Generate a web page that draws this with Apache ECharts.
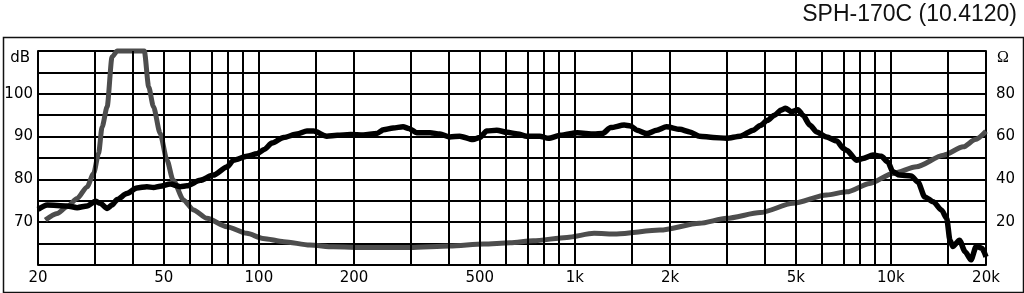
<!DOCTYPE html>
<html>
<head>
<meta charset="utf-8">
<script src="https://cdn.jsdelivr.net/npm/echarts@6/dist/echarts.min.js"></script>
<style>
html,body{margin:0;padding:0;background:#fff;}
#c{width:1024px;height:293px;}
</style>
</head>
<body>
<div id="c"></div>
<script>
// ---- data ----
var title = 'SPH-170C (10.4120)';
var xLabelFreqs = [20, 50, 100, 200, 500, 1000, 2000, 5000, 10000, 20000];
var xLabelTexts = ['20', '50', '100', '200', '500', '1k', '2k', '5k', '10k', '20k'];
var xGridFreqs = [30, 40, 50, 60, 70, 80, 90, 100, 150, 200, 300, 400, 500, 600, 700, 800, 900,
  1000, 1500, 2000, 3000, 4000, 5000, 6000, 7000, 8000, 9000, 10000, 15000];
var dbTicks = [70, 80, 90, 100];
var ohmTicks = [20, 40, 60, 80];

// SPL curve (dB)
var splFreq = [20, 21.4, 24.7, 26.6, 28.6, 30.4, 31.5, 33.1, 34.3, 35.6, 38.2, 41.1, 44.2, 46.4, 48.7,
  52.4, 56.4, 59.2, 65.2, 71.8, 79.2, 83.2, 91.6, 98.6, 104, 110, 119.8, 132, 142, 149, 164, 177, 195,
  214, 236, 248, 266, 286, 298, 316, 348, 374, 402, 432, 476, 500, 526, 566, 610, 660, 704, 774,
  824, 900, 1018, 1150, 1220, 1300, 1432, 1500, 1572, 1690, 1816, 1950, 2148, 2310, 2480, 2740,
  3020, 3334, 3672, 3860, 4070, 4280, 4500, 4640, 4850, 5080, 5270, 5540, 5820, 6260, 6740, 7080,
  7250, 7780, 8160, 8780, 9330, 9780, 10140, 10650, 11600, 12180, 12800, 13600, 14480, 15020,
  15380, 15700, 16480, 17180, 17920, 18640, 19440, 20000];
var splDb = [73.0, 74.0, 73.8, 73.4, 73.8, 74.9, 74.4, 73.2, 74.0, 75.3, 76.7, 78.0, 78.3, 78.1, 78.4,
  78.9, 78.3, 78.5, 79.8, 81.0, 82.9, 84.5, 85.4, 86.0, 87.0, 88.5, 89.8, 90.6, 91.3, 91.3, 90.1, 90.3, 90.5,
  90.4, 90.7, 91.6, 92.0, 92.3, 91.9, 90.9, 90.9, 90.6, 89.9, 90.1, 89.3, 89.8, 91.3, 91.5, 91.0, 90.6, 90.1, 90.1,
  89.6, 90.3, 90.9, 90.6, 90.7, 92.1, 92.7, 92.5, 91.5, 90.7, 91.5, 92.3, 91.7, 91.1, 90.1, 89.8,
  89.6, 90.1, 91.5, 92.6, 93.8, 95.0, 96.2, 96.6, 95.8, 96.3, 95.0, 92.7, 91.1, 89.9, 89.0, 87.2,
  86.8, 84.5, 84.9, 85.7, 85.4, 84.1, 81.8, 81.0, 80.8, 79.4, 75.9, 74.8, 72.8, 70.9,
  65.8, 64.3, 65.8, 63.1, 61.2, 64.4, 63.9, 61.9];

// Impedance curve (Ohm)
var impFreq = [21.1, 23.0, 24.7, 26.6, 28.6, 30, 31.1, 31.9, 33.1, 34.3, 35.6, 43.4, 44.8, 46.4, 48.7,
  51.2, 53.5, 57.8, 62.1, 68.5, 79.2, 91.6, 103, 120, 145, 172, 220, 301, 402, 514, 624, 738, 944,
  1150, 1356, 1860, 2480, 3020, 3860, 4900, 6260, 7250, 8580, 10140, 12060, 14660, 16960, 18500, 20000];
var impOhm = [21.0, 24.1, 27.2, 31.1, 36.5, 42.8, 52.1, 64.5, 73.9, 97.2, 100, 100, 83.2, 73.9, 61.5,
  49.0, 39.7, 30.3, 25.7, 21.8, 17.9, 14.8, 12.4, 10.9, 9.3, 8.5, 8.2, 8.2, 8.9, 9.8, 10.4, 11.3, 12.9,
  14.8, 14.5, 16.3, 19.5, 21.8, 24.5, 28.8, 32.7, 34.2, 38.1, 42.8, 45.9, 51.3, 55.2, 58.6, 62.5];

// ---- build ----
function lg(f) { return Math.log10(f); }
function pairs(fs, vs) { return fs.map(function (f, i) { return [lg(f), vs[i]]; }); }

var gridColor = '#000';
var chart = echarts.init(document.getElementById('c'), null, { renderer: 'canvas' });
chart.setOption({
  animation: false,
  backgroundColor: '#fff',
  title: {
    text: title, right: 2, top: -2,
    textStyle: { fontFamily: 'Liberation Sans, Arial, sans-serif', fontWeight: 'normal', fontSize: 23, color: '#111' }
  },
  graphic: [{
    type: 'rect', left: 1, top: 35, silent: true,
    shape: { width: 1020, height: 255 },
    style: { fill: 'none', stroke: '#111', lineWidth: 1.5 }
  }],
  grid: { left: 38, right: 38, top: 51, bottom: 28, containLabel: false },
  xAxis: {
    type: 'value', min: lg(20), max: lg(20000),
    axisLine: { show: false }, axisTick: { show: false }, splitLine: { show: false },
    axisLabel: {
      customValues: xLabelFreqs.map(lg),
      margin: 6,
      fontFamily: 'DejaVu Sans, Verdana, sans-serif', fontSize: 15, color: '#000',
      formatter: function (v) {
        var best = 0, bd = 1e9;
        for (var i = 0; i < xLabelFreqs.length; i++) {
          var d = Math.abs(lg(xLabelFreqs[i]) - v);
          if (d < bd) { bd = d; best = i; }
        }
        return xLabelTexts[best];
      }
    }
  },
  yAxis: [{
    type: 'value', min: 60, max: 110, interval: 5, position: 'left',
    axisLine: { show: true, lineStyle: { color: gridColor, width: 2 } },
    axisTick: { show: false },
    splitLine: { show: true, lineStyle: { color: gridColor, width: 2 } },
    axisLabel: {
      margin: 5,
      fontFamily: 'DejaVu Sans, Verdana, sans-serif', fontSize: 15, color: '#000',
      formatter: function (v) {
        if (v === 110) return '{u|dB}';
        return dbTicks.indexOf(v) >= 0 ? String(v) : '';
      },
      rich: { u: { fontFamily: 'DejaVu Sans, Verdana, sans-serif', fontSize: 15, color: '#000', padding: [14, 3, 0, 0] } }
    }
  }, {
    type: 'value', min: 0, max: 100, interval: 10, position: 'right',
    axisLine: { show: true, lineStyle: { color: gridColor, width: 2 } },
    axisTick: { show: false },
    splitLine: { show: false },
    axisLabel: {
      margin: 10,
      fontFamily: 'DejaVu Sans, Verdana, sans-serif', fontSize: 15, color: '#000',
      formatter: function (v) {
        if (v === 100) return '{o|Ω}';
        return ohmTicks.indexOf(v) >= 0 ? String(v) : '';
      },
      rich: { o: { fontFamily: 'Liberation Serif, DejaVu Serif, serif', fontSize: 16, color: '#000', padding: [14, 0, 0, 1] } }
    }
  }],
  series: [{
    type: 'line', name: 'grid', data: [], z: 1, silent: true,
    markLine: {
      silent: true, symbol: ['none', 'none'], label: { show: false }, animation: false,
      lineStyle: { color: gridColor, type: 'solid', width: 2 },
      emphasis: { disabled: true },
      data: xGridFreqs.map(function (f) { return { xAxis: lg(f) }; })
    }
  }, {
    type: 'line', name: 'Impedance', yAxisIndex: 1, z: 3, clip: false,
    data: pairs(impFreq, impOhm), showSymbol: false, smooth: 0.25, smoothMonotone: 'x',
    lineStyle: { color: '#4d4d4d', width: 5 }
  }, {
    type: 'line', name: 'SPL', yAxisIndex: 0, z: 4,
    data: pairs(splFreq, splDb), showSymbol: false, smooth: 0.25, smoothMonotone: 'x',
    lineStyle: { color: '#000', width: 5.5 }
  }]
});
</script>
</body>
</html>
